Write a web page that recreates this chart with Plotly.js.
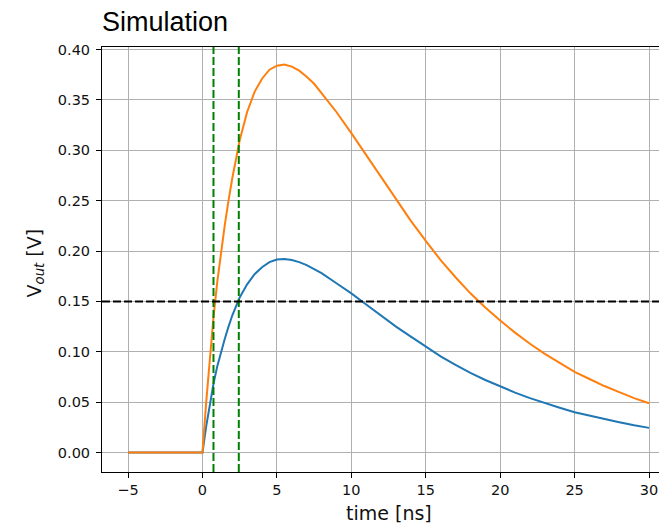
<!DOCTYPE html>
<html>
<head>
<meta charset="utf-8">
<script src="https://cdn.plot.ly/plotly-3.0.1.min.js"></script>
<style>html,body{margin:0;padding:0;background:#fff;}#chart{width:659px;height:523px;}</style>
</head>
<body>
<div id="chart"></div>
<script>
// time axis samples [ns]
const time = [-5, 0, 0.25, 0.5, 0.75, 1, 1.25, 1.5, 1.75, 2, 2.5, 3, 3.5, 4, 4.5, 5, 5.5, 6, 6.5, 7, 7.5, 8, 9, 10,
              11, 12, 13, 14, 15, 16, 17, 18, 19, 20, 21, 22, 23, 24, 25, 26, 27, 28, 29, 30];
// blue series V_out [V]
const vBlue = [0, 0, 0.026, 0.049, 0.069, 0.086, 0.100, 0.113, 0.125, 0.136, 0.154, 0.167, 0.177, 0.184, 0.189, 0.1915, 0.192, 0.191, 0.189, 0.186, 0.182, 0.178, 0.168, 0.158,
               0.147, 0.136, 0.125, 0.115, 0.105, 0.0955, 0.087, 0.079, 0.072, 0.0655, 0.0595, 0.054, 0.049, 0.0445, 0.040, 0.0365, 0.033, 0.030, 0.027, 0.0245];
// orange series V_out [V]
const vOrange = [0, 0, 0.050, 0.096, 0.136, 0.170, 0.199, 0.226, 0.250, 0.272, 0.310, 0.338, 0.358, 0.371, 0.380, 0.384, 0.385, 0.383, 0.379, 0.373, 0.366, 0.357, 0.338, 0.317,
                 0.295, 0.273, 0.251, 0.230, 0.210, 0.191, 0.174, 0.158, 0.144, 0.131, 0.119, 0.108, 0.098, 0.089, 0.080, 0.073, 0.066, 0.060, 0.054, 0.049];
// threshold and crossing markers
const threshold = 0.15;
const crossTimes = [0.74, 2.44];

const traces = [
  {x: time, y: vBlue, type: 'scatter', mode: 'lines', line: {color: '#1f77b4', width: 2}, hoverinfo: 'skip'},
  {x: time, y: vOrange, type: 'scatter', mode: 'lines', line: {color: '#ff7f0e', width: 2}, hoverinfo: 'skip'}
];

const shapes = crossTimes.map(t => ({
  type: 'line', xref: 'x', yref: 'paper', x0: t, x1: t, y0: 0, y1: 1,
  line: {color: '#008000', width: 2, dash: '8px,3px'}
}));
shapes.push({
  type: 'line', xref: 'paper', yref: 'y', x0: 0, x1: 1, y0: threshold, y1: threshold,
  line: {color: '#000000', width: 2, dash: '8px,3px'}
});

const tickFont = {family: 'DejaVu Sans', size: 14.5, color: '#111'};
const layout = {
  width: 659, height: 523,
  margin: {l: 102, r: 0, t: 47, b: 51, pad: 0},
  paper_bgcolor: '#fff', plot_bgcolor: '#fff',
  showlegend: false,
  title: {text: 'Simulation', font: {family: 'Liberation Sans', size: 27, color: '#000'},
          xref: 'paper', x: 0, xanchor: 'left', yref: 'container', y: 1 - 22/523, yanchor: 'middle'},
  xaxis: {range: [-6.75, 30.67], tick0: 0, dtick: 5, showgrid: true, gridcolor: '#b0b0b0', gridwidth: 1,
          zeroline: false, showline: true, linecolor: '#000', linewidth: 1, mirror: true,
          ticks: 'outside', ticklen: 5, tickwidth: 1, tickcolor: '#000', tickfont: tickFont},
  yaxis: {range: [-0.0193, 0.4025], tick0: 0, dtick: 0.05, tickformat: '.2f', showgrid: true, gridcolor: '#b0b0b0', gridwidth: 1,
          zeroline: false, showline: true, linecolor: '#000', linewidth: 1, mirror: false,
          ticks: 'outside', ticklen: 5, tickwidth: 1, tickcolor: '#000', tickfont: tickFont, ticklabelstandoff: 3},
  shapes: shapes,
  annotations: [
    {text: 'time [ns]', xref: 'x', x: 12.5, yref: 'paper', y: -(513 - 472) / 425, xanchor: 'center', yanchor: 'middle',
     showarrow: false, font: {family: 'DejaVu Sans', size: 19, color: '#111'}},
    {text: 'V<sub><i>out</i></sub> [V]', xref: 'paper', x: -(102 - 35) / 557, yref: 'paper', y: (472 - 263.5) / 425,
     xanchor: 'center', yanchor: 'middle', textangle: -90, showarrow: false,
     font: {family: 'DejaVu Sans', size: 19, color: '#111'}}
  ]
};

Plotly.newPlot('chart', traces, layout, {staticPlot: true, displayModeBar: false});
</script>
</body>
</html>
